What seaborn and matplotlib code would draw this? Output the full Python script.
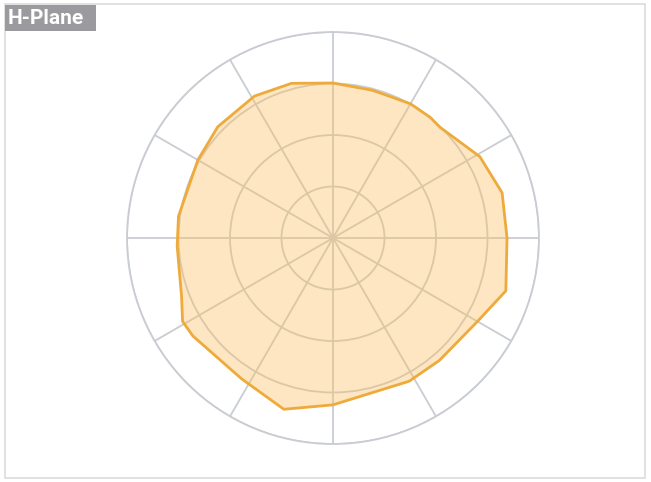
import matplotlib

matplotlib.use("Agg")

import matplotlib.pyplot as plt
import numpy as np
import pandas as pd
import seaborn as sns
from matplotlib.patches import Rectangle


# ===================== DATA =====================
title = "H-Plane"

# azimuth in degrees (0 = up, clockwise) and gain in dB
azimuth_deg = [0, 15, 30, 39, 44, 50, 61, 75, 90, 107, 120, 139, 152,
               180, 196, 213, 235, 241, 249, 267, 278, 300, 314, 331, 345]
gain_db = [-9.9, -10.3, -9.9, -9.9, -10.1, -9.5, -7.4, -6.0, -6.2, -4.9,
           -7.6, -8.5, -8.5, -7.6, -5.4, -7.4, -6.8, -6.6, -8.5, -9.7,
           -9.7, -9.7, -8.9, -8.5, -8.9]

r_ticks = [-30, -20, -10, 0]
r_min, r_max = -40, 0


# ===================== STYLE =====================
sns.set_theme(style="white")
plt.rcParams["font.family"] = ["Roboto", "DejaVu Sans"]

grid_color = "#c9cdd2"
fill_color = "#fbbf5e"
edge_color = "#eeaa3a"


# ===================== FIGURE =====================
fig = plt.figure(figsize=(6.51, 4.82), dpi=100)

# outer frame and title tag
fig.patches.append(Rectangle((5 / 651, 4 / 482), 640 / 651, 474 / 482,
                             transform=fig.transFigure, facecolor="none",
                             edgecolor="#dcdcdc", linewidth=1.2))
fig.patches.append(Rectangle((5 / 651, 1 - 31 / 482), 91 / 651, 26 / 482,
                             transform=fig.transFigure, facecolor="#9b9b9f",
                             edgecolor="none"))
fig.text(8 / 651, 1 - 18.5 / 482, title, color="white", fontsize=15,
         fontweight="bold", va="center", ha="left")

ax = fig.add_axes([0.1951, 0.0788, 0.6328, 0.8548], projection="polar")
ax.set_theta_zero_location("N")
ax.set_theta_direction(-1)
ax.set_facecolor("none")

theta = np.deg2rad(np.append(azimuth_deg, azimuth_deg[0] + 360))
gain = np.append(gain_db, gain_db[0])
df = pd.DataFrame({"theta": theta, "gain": gain})

ax.fill(df["theta"], df["gain"], color=fill_color, alpha=0.38, zorder=3,
        linewidth=0)
sns.lineplot(data=df, x="theta", y="gain", ax=ax, sort=False,
             color=edge_color, linewidth=2.0, zorder=4)

# ===================== AXES =====================
ax.set_ylim(r_min, r_max)
ax.set_yticks(r_ticks)
ax.set_xticks(np.deg2rad(np.arange(0, 360, 30)))
ax.set_xticklabels([])
ax.set_yticklabels([])
ax.set_xlabel("")
ax.set_ylabel("")
ax.grid(True, color=grid_color, linewidth=1.3)
ax.spines["polar"].set_color(grid_color)
ax.spines["polar"].set_linewidth(1.3)
ax.set_axisbelow(True)

fig.savefig("out.png", dpi=100)
plt.close(fig)
